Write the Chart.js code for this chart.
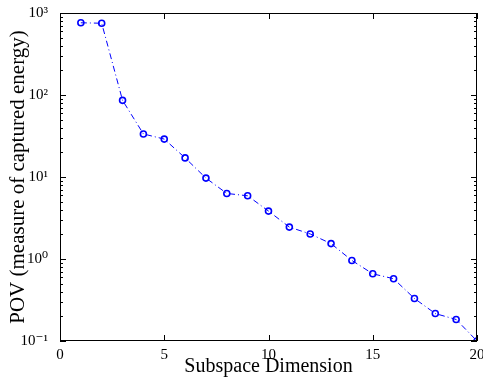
<!DOCTYPE html>
<html>
<head>
<meta charset="utf-8">
<script src="https://cdn.jsdelivr.net/npm/chart.js@4"></script>
<style>
  html, body { margin: 0; padding: 0; background: #fff; }
  #wrap { width: 483px; height: 381px; }
</style>
</head>
<body>
<div id="wrap"><canvas id="myChart" width="483" height="381"></canvas></div>
<script>
// data
var dims = [1, 2, 3, 4, 5, 6, 7, 8, 9, 10, 11, 12, 13, 14, 15, 16, 17, 18, 19, 20];
var pov = [760, 750, 86, 33.5, 29, 17.1, 9.7, 6.3, 5.9, 3.84, 2.45, 2.02, 1.54, 0.96, 0.66, 0.575, 0.33, 0.216, 0.183, 0.1];
var xTicks = [0, 5, 10, 15, 20];
var yTicks = [0.1, 1, 10, 100, 1000];
var yTickLabels = ["10\u207B\u00B9", "10\u2070", "10\u00B9", "10\u00B2", "10\u00B3"];

var serif = "'Liberation Serif', 'DejaVu Serif', serif";

var points = [];
for (let i = 0; i < dims.length; i++) {
    points.push({ x: dims[i], y: pov[i] });
}

// box + inward ticks like matlab
var boxTicks = {
    id: 'boxTicks',
    afterDraw: function (chart) {
        let c = chart.ctx;
        let a = chart.chartArea;
        let xs = chart.scales.x;
        let ys = chart.scales.y;
        c.save();
        c.strokeStyle = '#000';
        c.lineWidth = 1;
        c.strokeRect(a.left + 0.5, a.top + 0.5, a.right - a.left - 1, a.bottom - a.top - 1);
        c.beginPath();
        for (let v of xTicks) {
            let px = Math.round(xs.getPixelForValue(v)) + 0.5;
            c.moveTo(px, a.bottom); c.lineTo(px, a.bottom - 6);
            c.moveTo(px, a.top); c.lineTo(px, a.top + 6);
        }
        for (let d = 0.1; d < 1000; d *= 10) {
            for (let k = 1; k < 10; k++) {
                let v = d * k;
                let py = Math.round(ys.getPixelForValue(v)) + 0.5;
                let len = (k == 1) ? 6 : 3;
                c.moveTo(a.left, py); c.lineTo(a.left + len, py);
                c.moveTo(a.right, py); c.lineTo(a.right - len, py);
            }
        }
        c.stroke();
        c.restore();
    }
};

var ctx = document.getElementById('myChart');
var myChart = new Chart(ctx, {
    type: 'line',
    data: {
        datasets: [{
            label: 'POV',
            data: points,
            borderColor: 'rgb(0,0,255)',
            borderWidth: 1,
            borderDash: [6, 3, 1, 3],
            pointRadius: 3,
            pointBorderWidth: 1.6,
            pointBackgroundColor: 'rgba(0,0,0,0)',
            pointBorderColor: 'rgb(0,0,255)',
            tension: 0,
            fill: false
        }]
    },
    options: {
        responsive: false,
        animation: false,
        layout: { padding: { top: 11, right: 6, left: 0, bottom: 0 } },
        plugins: {
            legend: { display: false },
            tooltip: { enabled: false }
        },
        scales: {
            x: {
                type: 'linear',
                min: 0,
                max: 20,
                grid: { display: false },
                border: { display: false },
                afterBuildTicks: function (axis) {
                    axis.ticks = xTicks.map(v => ({ value: v }));
                },
                afterFit: function (axis) { axis.height = 40; },
                ticks: {
                    color: '#000',
                    padding: -3,
                    maxRotation: 0,
                    font: { family: serif, size: 15 }
                },
                title: {
                    display: true,
                    text: 'Subspace Dimension',
                    color: '#000',
                    padding: { top: 0, bottom: 2 },
                    font: { family: serif, size: 20 }
                }
            },
            y: {
                type: 'logarithmic',
                min: 0.1,
                max: 1000,
                grid: { display: false },
                border: { display: false },
                afterBuildTicks: function (axis) {
                    axis.ticks = yTicks.map(v => ({ value: v }));
                },
                afterFit: function (axis) { axis.width = 60; },
                ticks: {
                    color: '#000',
                    padding: 4,
                    font: { family: serif, size: 15 },
                    callback: function (value) {
                        let i = yTicks.indexOf(value);
                        return i >= 0 ? yTickLabels[i] : '';
                    }
                },
                title: {
                    display: true,
                    text: 'POV (measure of captured energy)',
                    color: '#000',
                    padding: { top: 6, bottom: 0 },
                    font: { family: serif, size: 21 }
                }
            }
        }
    },
    plugins: [boxTicks]
});
</script>
</body>
</html>
